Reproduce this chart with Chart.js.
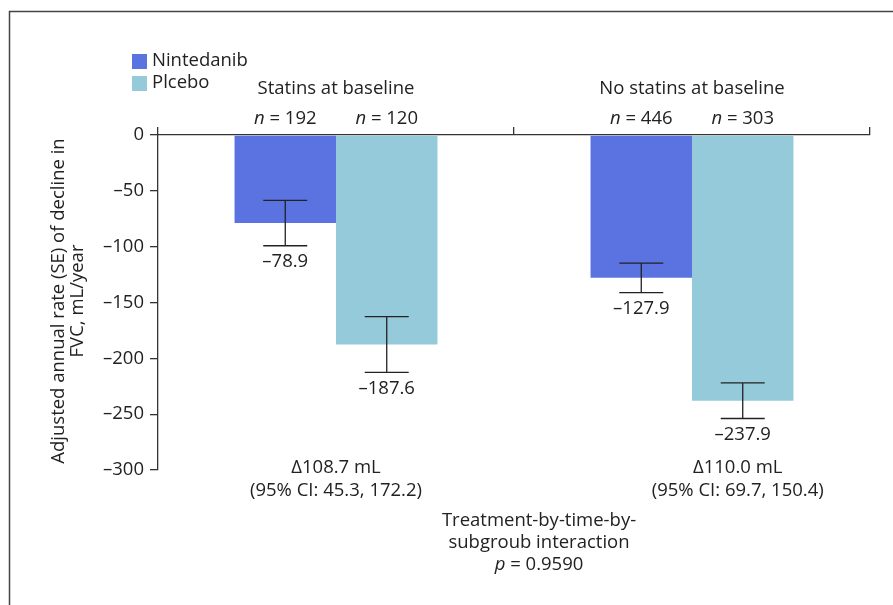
<!DOCTYPE html>
<html>
<head>
<meta charset="utf-8">
<script src="https://cdn.jsdelivr.net/npm/chart.js@4/dist/chart.umd.min.js"></script>
<style>
  body { margin: 0; background: #fff; }
  #wrap { width: 893px; height: 605px; position: relative; }
</style>
</head>
<body>
<div id="wrap"><canvas id="chart"></canvas></div>
<script>
const categories = ['Statins at baseline', 'No statins at baseline'];
const nintedanib = [-78.9, -127.9];
const placebo = [-187.6, -237.9];
const nintedanibSE = [20.3, 13.2];
const placeboSE = [25.0, 16.0];
const nintedanibN = [192, 446];
const placeboN = [120, 303];
const deltaLabels = ['\u0394108.7 mL', '\u0394110.0 mL'];
const ciLabels = ['(95% CI: 45.3, 172.2)', '(95% CI: 69.7, 150.4)'];
const legendLabels = ['Nintedanib', 'Plcebo'];
const yTickValues = [0, -50, -100, -150, -200, -250, -300];

const FONT = '"Open Sans", "Noto Sans", sans-serif';
const FS = '18.5px ';
const TEXT = '#222';
const NINT_COLOR = '#5a73e0';
const PLAC_COLOR = '#95cadb';

function drawParts(ctx, parts, cx, cy) {
    // parts: [[text, italic]]
    let total = 0;
    parts.forEach(p => {
        ctx.font = (p[1] ? 'italic ' : '') + FS + FONT;
        total += ctx.measureText(p[0]).width;
    });
    let x = cx - total / 2;
    ctx.textAlign = 'left';
    ctx.textBaseline = 'middle';
    parts.forEach(p => {
        ctx.font = (p[1] ? 'italic ' : '') + FS + FONT;
        ctx.fillText(p[0], x, cy);
        x += ctx.measureText(p[0]).width;
    });
}

const annotations = {
    id: 'annotations',
    beforeDraw(chart) {
        const ctx = chart.ctx;
        ctx.save();
        ctx.strokeStyle = '#444';
        ctx.lineWidth = 1.5;
        ctx.beginPath();
        ctx.moveTo(9.5, 605);
        ctx.lineTo(9.5, 11.5);
        ctx.lineTo(893, 11.5);
        ctx.stroke();
        ctx.restore();
    },
    afterDatasetsDraw(chart) {
        const ctx = chart.ctx;
        const y = chart.scales.y;
        const x = chart.scales.x;
        const seSets = [nintedanibSE, placeboSE];
        const valSets = [nintedanib, placebo];
        const nSets = [nintedanibN, placeboN];
        ctx.save();
        ctx.fillStyle = TEXT;
        ctx.strokeStyle = '#222';
        ctx.lineWidth = 1.3;
        chart.data.datasets.forEach((ds, di) => {
            const meta = chart.getDatasetMeta(di);
            meta.data.forEach((bar, i) => {
                const v = valSets[di][i];
                const se = seSets[di][i];
                const yTop = y.getPixelForValue(v + se);
                const yBot = y.getPixelForValue(v - se);
                const half = 22;
                ctx.beginPath();
                ctx.moveTo(bar.x, yTop);
                ctx.lineTo(bar.x, yBot);
                ctx.moveTo(bar.x - half, yTop);
                ctx.lineTo(bar.x + half, yTop);
                ctx.moveTo(bar.x - half, yBot);
                ctx.lineTo(bar.x + half, yBot);
                ctx.stroke();
                ctx.font = FS + FONT;
                ctx.textAlign = 'center';
                ctx.textBaseline = 'middle';
                ctx.fillText('\u2013' + Math.abs(v).toFixed(1), bar.x, yBot + 16);
                drawParts(ctx, [['n', true], [' = ' + nSets[di][i], false]], bar.x, 119);
            });
        });
        categories.forEach((c, i) => {
            const cx = x.getPixelForValue(i);
            ctx.font = FS + FONT;
            ctx.textAlign = 'center';
            ctx.textBaseline = 'middle';
            ctx.fillText(c, cx, 89);
            const ax = i === 0 ? cx : chart.getDatasetMeta(1).data[i].x - 5;
            ctx.fillText(deltaLabels[i], ax, 468);
            ctx.fillText(ciLabels[i], ax, 491);
        });
        const mid = 539;
        ctx.fillText('Treatment-by-time-by-', mid, 521);
        ctx.fillText('subgroub interaction', mid, 543);
        drawParts(ctx, [['p', true], [' = 0.9590', false]], mid, 565);

        // legend
        const colors = [NINT_COLOR, PLAC_COLOR];
        legendLabels.forEach((l, i) => {
            ctx.fillStyle = colors[i];
            ctx.fillRect(132, 54 + i * 22, 15, 15);
            ctx.fillStyle = TEXT;
            ctx.font = FS + FONT;
            ctx.textAlign = 'left';
            ctx.textBaseline = 'middle';
            ctx.fillText(l, 152, 61 + i * 21.5);
        });

        // y-axis title
        ctx.save();
        ctx.translate(59, 301);
        ctx.rotate(-Math.PI / 2);
        ctx.textAlign = 'center';
        ctx.textBaseline = 'middle';
        ctx.font = FS + FONT;
        ctx.fillText('Adjusted annual rate (SE) of decline in', 0, 0);
        ctx.fillText('FVC, mL/year', 0, 19);
        ctx.restore();
        ctx.restore();
    }
};

new Chart(document.getElementById('chart'), {
    type: 'bar',
    data: {
        labels: categories,
        datasets: [
            {
                label: legendLabels[0],
                data: nintedanib,
                backgroundColor: NINT_COLOR,
                barPercentage: 1,
                categoryPercentage: 0.57
            },
            {
                label: legendLabels[1],
                data: placebo,
                backgroundColor: PLAC_COLOR,
                barPercentage: 1,
                categoryPercentage: 0.57
            }
        ]
    },
    options: {
        responsive: true,
        maintainAspectRatio: false,
        animation: false,
        layout: { padding: { top: 0, left: 0, right: 23, bottom: 135 } },
        plugins: {
            legend: { display: false },
            tooltip: { enabled: false }
        },
        scales: {
            x: {
                position: 'top',
                offset: true,
                grid: { offset: true, drawOnChartArea: false, tickLength: 8, color: '#333', lineWidth: 1.3 },
                border: { color: '#333', width: 1.3 },
                ticks: { display: false },
                afterFit: s => { s.height = 135; }
            },
            y: {
                min: -300,
                max: 0,
                afterBuildTicks: s => { s.ticks = yTickValues.map(v => ({ value: v })); },
                ticks: {
                    color: TEXT,
                    padding: 6,
                    font: { family: FONT, size: 18.5 },
                    callback: v => (v < 0 ? '\u2013' + Math.abs(v) : '' + v)
                },
                grid: { drawOnChartArea: false, tickLength: 8, color: '#333', lineWidth: 1.3 },
                border: { color: '#333', width: 1.3 },
                afterFit: s => { s.width = 158; }
            }
        }
    },
    plugins: [annotations]
});
</script>
</body>
</html>
